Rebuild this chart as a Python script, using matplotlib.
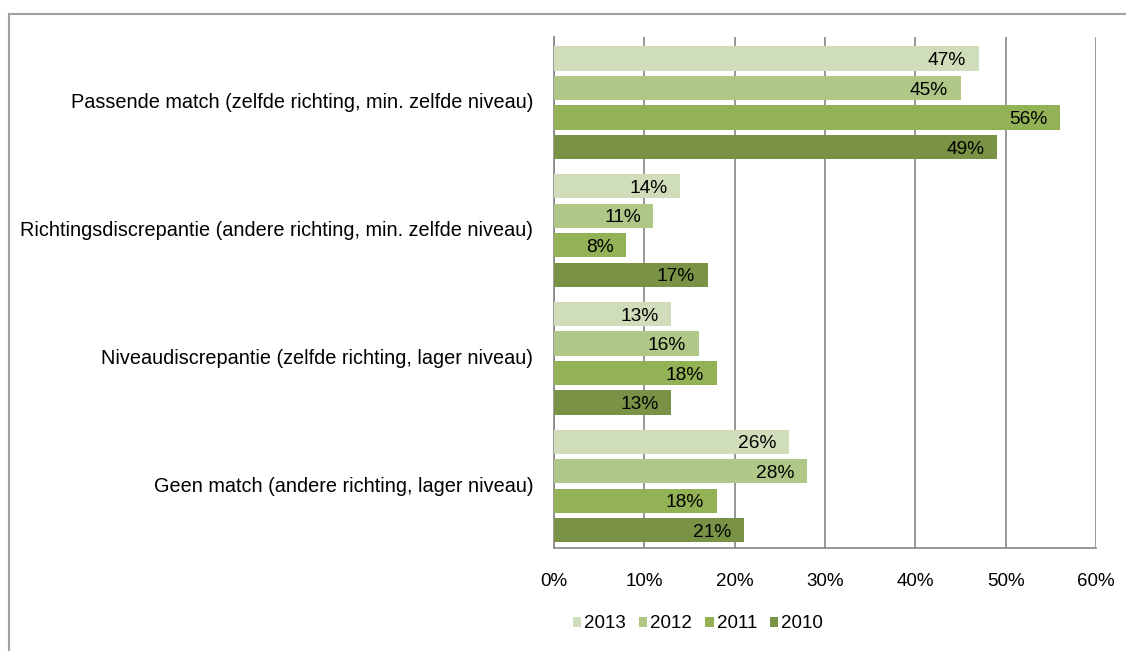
import matplotlib
matplotlib.use("Agg")
import matplotlib.pyplot as plt
from matplotlib.patches import Patch
from matplotlib.lines import Line2D

plt.rcParams['font.family'] = ['Liberation Sans', 'DejaVu Sans']

categories = [
    "Passende match (zelfde richting, min. zelfde niveau)",
    "Richtingsdiscrepantie (andere richting, min. zelfde niveau)",
    "Niveaudiscrepantie (zelfde richting, lager niveau)",
    "Geen match (andere richting, lager niveau)",
]
years = ["2013", "2012", "2011", "2010"]
v2013 = [47, 14, 13, 26]
v2012 = [45, 11, 16, 28]
v2011 = [56, 8, 18, 18]
v2010 = [49, 17, 13, 21]
series = [v2013, v2012, v2011, v2010]
colors = ["#D0DDBA", "#AFC887", "#93B155", "#7A9245"]
xticks = [0, 10, 20, 30, 40, 50, 60]

fig = plt.figure(figsize=(11.26, 6.51), dpi=100)
ax = fig.add_axes([554/1126, 1-548/651, (1096-554)/1126, (548-37)/651])

slot = 0.231
h = 0.19
fs = 13.5
for j, vals in enumerate(series):
    off = (j - 1.5) * slot + 0.015
    for i, v in enumerate(vals):
        y = i + off
        ax.barh(y, v, height=h, color=colors[j], zorder=3)
        ax.annotate(f"{v}%", (v, y), xytext=(-9, 0), textcoords='offset points',
                    ha='right', va='center_baseline', fontsize=13.8,
                    color='black', zorder=4)

ax.set_xlim(0, 60)
ax.set_ylim(3.5, -0.5)
ax.set_xticks(xticks)
ax.set_xticklabels([f"{t}%" for t in xticks], fontsize=fs)
ax.set_yticks(range(len(categories)))
ax.set_yticklabels(categories, fontsize=14.3)
ax.tick_params(axis='both', length=0)
ax.tick_params(axis='x', pad=18)
ax.tick_params(axis='y', pad=15)
ax.grid(axis='x', color='#868686', linewidth=1.2, zorder=0)
for s in ['top', 'right']:
    ax.spines[s].set_visible(False)
for s in ['left', 'bottom']:
    ax.spines[s].set_color('#868686')
    ax.spines[s].set_linewidth(1.2)

handles = [Patch(facecolor=c, edgecolor='none') for c in colors]
fig.legend(handles, years, loc='center', bbox_to_anchor=(698/1126, 1-624/651),
           ncol=4, frameon=False, fontsize=fs, handlelength=0.45,
           handleheight=0.45, handletextpad=0.15, columnspacing=0.7)

# outer chart frame
fig.add_artist(Line2D([9/1126, 1], [1-14/651, 1-14/651], color='#A0A0A0', linewidth=1.5))
fig.add_artist(Line2D([9/1126, 9/1126], [0, 1-14/651], color='#A0A0A0', linewidth=1.5))

fig.savefig("out.png", dpi=100)
